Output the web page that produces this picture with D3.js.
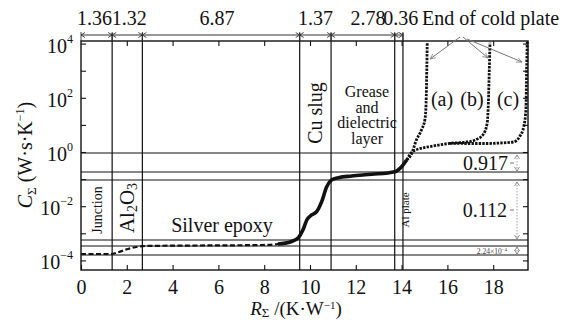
<!DOCTYPE html>
<html>
<head>
<meta charset="utf-8">
<script src="https://cdn.jsdelivr.net/npm/d3@7"></script>
<style>
  html, body { margin: 0; padding: 0; background: #fff; }
  svg { display: block; }
</style>
</head>
<body>
<svg id="chart" width="574" height="321"></svg>
<script>
// Thermal resistance of each layer along the heat path (K/W)
const layerR = [1.36, 1.32, 6.87, 1.37, 2.78, 0.36];
const layerLabels = ["1.36", "1.32", "6.87", "1.37", "2.78", "0.36"];

// Axis ticks
const xTicks = [0, 2, 4, 6, 8, 10, 12, 14, 16, 18];
const yDecades = [-4, -3, -2, -1, 0, 1, 2, 3, 4];
const yLabelExps = [4, 2, 0, -2, -4];

// Cumulative capacitance levels marked by horizontal reference lines
const levelC = [0.917, 0.183, 0.093, 5.66e-4, 3.4e-4, 1.58e-4];

// Cumulative structure function, common part (R in K/W, C in W·s/K)
const sharedR = [0, 1.31, 1.62, 2.05, 2.49, 2.79, 5.20, 7.86, 8.60, 9.17, 9.48, 9.69, 9.86, 10.07,
  10.29, 10.51, 10.73, 10.94, 11.24, 11.82, 12.69, 13.71, 14.00, 14.22];
const sharedC = [1.72e-4, 1.72e-4, 1.99e-4, 2.64e-4, 3.21e-4, 3.40e-4, 3.55e-4, 3.70e-4, 4.03e-4,
  4.90e-4, 6.71e-4, 1.32e-3, 3.10e-3, 4.74e-3, 6.27e-3, 1.47e-2, 5.25e-2, 9.27e-2, 0.113, 0.130,
  0.150, 0.188, 0.287, 0.507];

// Branches for the three cold plate conditions
const branchAR = [14.22, 14.41, 14.66, 14.88, 15.02, 15.07, 15.10, 15.12];
const branchAC = [0.507, 0.775, 2.94, 6.88, 16.1, 65.9, 1127, 10790];
const branchBR = [14.22, 14.51, 15.38, 16.11, 16.84, 17.28, 17.57, 17.74, 17.79, 17.83, 17.86];
const branchBC = [0.507, 1.09, 1.66, 2.09, 2.34, 2.94, 4.50, 12.1, 65.9, 1127, 10790];
const branchCR = [16.11, 16.99, 17.76, 18.30, 18.88, 19.17, 19.34, 19.43, 19.46, 19.49];
const branchCC = [2.09, 2.06, 2.06, 2.15, 2.34, 3.89, 9.1, 37.6, 1127, 12470];

const FONT = "'Liberation Serif', Tinos, 'Times New Roman', 'DejaVu Serif', serif";
const svg = d3.select("#chart").attr("font-family", FONT);
const L = 81, R = 528, T = 41, B = 270;

const x = d3.scaleLinear().domain([0, 19.52]).range([L, R]);
const y = d3.scaleLog().domain([Math.pow(10, -4.354), Math.pow(10, 4.096)]).range([B, T]);

const defs = svg.append("defs");
defs.append("clipPath").attr("id", "plotClip")
  .append("rect").attr("x", L).attr("y", T - 1).attr("width", R - L + 1).attr("height", B - T + 1);
defs.append("marker").attr("id", "greyHead").attr("viewBox", "0 0 10 10")
  .attr("refX", 9).attr("refY", 5).attr("markerWidth", 6).attr("markerHeight", 6)
  .attr("orient", "auto")
  .append("path").attr("d", "M0,1 L9,5 L0,9").attr("fill", "none").attr("stroke", "#777").attr("stroke-width", 1.2);

// Layer boundaries
const bounds = [0];
layerR.forEach(r => bounds.push(+(bounds[bounds.length - 1] + r).toFixed(2)));

// Horizontal reference lines
svg.append("g").selectAll("line").data(levelC).join("line")
  .attr("x1", L).attr("x2", R)
  .attr("y1", d => y(d)).attr("y2", d => y(d))
  .attr("stroke", "#111").attr("stroke-width", 1.1);

// Vertical boundary lines
svg.append("g").selectAll("line").data(bounds.slice(1)).join("line")
  .attr("x1", d => x(d)).attr("x2", d => x(d))
  .attr("y1", 33).attr("y2", B)
  .attr("stroke", "#111").attr("stroke-width", 1.2);

// Axes (ticks pointing inward)
const xAxisB = d3.axisBottom(x).tickValues(xTicks).tickSize(-5).tickPadding(10).tickFormat(d3.format("d"));
const gxB = svg.append("g").attr("transform", `translate(0,${B})`).call(xAxisB);
gxB.attr("font-family", FONT);
gxB.selectAll("text").attr("font-size", 20).attr("fill", "#111");
const gxT = svg.append("g").attr("transform", `translate(0,${T})`)
  .call(d3.axisTop(x).tickValues(xTicks.slice(1)).tickSize(-5).tickFormat(""));
const gyL = svg.append("g").attr("transform", `translate(${L},0)`)
  .call(d3.axisLeft(y).tickValues(yDecades.map(e => Math.pow(10, e))).tickSize(-5).tickFormat(""));
const gyR = svg.append("g").attr("transform", `translate(${R},0)`)
  .call(d3.axisRight(y).tickValues(yDecades.map(e => Math.pow(10, e))).tickSize(-5).tickFormat(""));
[gxB, gxT, gyL, gyR].forEach(g => {
  g.select(".domain").remove();
  g.selectAll("line").attr("stroke", "#111").attr("stroke-width", 1.1);
});

// Frame
svg.append("rect").attr("x", L).attr("y", T).attr("width", R - L).attr("height", B - T)
  .attr("fill", "none").attr("stroke", "#111").attr("stroke-width", 1.4);

// Y tick labels: 10 with superscript exponent
const yLab = svg.append("g").selectAll("text").data(yLabelExps).join("text")
  .attr("x", 73).attr("y", d => y(Math.pow(10, d)) + 9)
  .attr("text-anchor", "end").attr("font-size", 20).attr("fill", "#111");
yLab.append("tspan").text("10");
yLab.append("tspan").attr("font-size", 12).attr("dy", -10).text(d => d < 0 ? "\u2212" + (-d) : d);

// Dimension line above the plot with layer resistances
const dimY = 35;
svg.append("line").attr("x1", x(0)).attr("x2", x(bounds[bounds.length - 1]))
  .attr("y1", dimY).attr("y2", dimY).attr("stroke", "#333").attr("stroke-width", 1);
const arrowG = svg.append("g").attr("stroke", "#333").attr("stroke-width", 0.9).attr("fill", "none");
bounds.forEach((b, i) => {
  const px = x(b);
  if (i > 0) arrowG.append("path").attr("d", `M${px - 4},${dimY - 2.5} L${px},${dimY} L${px - 4},${dimY + 2.5}`);
  if (i < bounds.length - 1) arrowG.append("path").attr("d", `M${px + 4},${dimY - 2.5} L${px},${dimY} L${px + 4},${dimY + 2.5}`);
  arrowG.append("line").attr("x1", px).attr("x2", px).attr("y1", dimY - 3).attr("y2", T);
});
const segShift = [-2, 2, -4, 0, 5, 2];
svg.append("g").selectAll("text").data(layerLabels).join("text")
  .attr("x", (d, i) => x((bounds[i] + bounds[i + 1]) / 2) + segShift[i])
  .attr("y", 25).attr("text-anchor", "middle").attr("font-size", 20).attr("fill", "#111")
  .text(d => d);

// Structure function curves
const line = d3.line().x(d => x(d[0])).y(d => y(d[1])).curve(d3.curveMonotoneX);
const curves = svg.append("g").attr("clip-path", "url(#plotClip)");
const sharedPts = sharedR.map((r, i) => [r, sharedC[i]]);
curves.append("path").attr("d", line(sharedPts.slice(0, 10)))
  .attr("fill", "none").attr("stroke", "#111").attr("stroke-width", 2.2)
  .attr("stroke-dasharray", "5 2.5");
curves.append("path").attr("d", line(sharedPts.slice(8)))
  .attr("fill", "none").attr("stroke", "#111").attr("stroke-width", 3.6).attr("stroke-linejoin", "round");
[[branchAR, branchAC], [branchBR, branchBC], [branchCR, branchCC]].forEach(([rs, cs]) => {
  const pts = rs.map((r, i) => [r, cs[i]]);
  curves.append("path").attr("d", line(pts))
    .attr("fill", "none").attr("stroke", "#111").attr("stroke-width", 2.8)
    .attr("stroke-dasharray", "2.4 1.2");
});

// Region labels
function vtext(txt, cx, cy, size) {
  return svg.append("text").attr("transform", `translate(${cx},${cy}) rotate(-90)`)
    .attr("text-anchor", "middle").attr("dominant-baseline", "central").attr("font-size", size)
    .attr("fill", "#111").text(txt);
}
vtext("Junction", 97, 210, 14);
const al = svg.append("text").attr("transform", "translate(127,208) rotate(-90)")
  .attr("text-anchor", "middle").attr("dominant-baseline", "central").attr("font-size", 21).attr("fill", "#111");
al.append("tspan").text("Al");
al.append("tspan").attr("font-size", 14).attr("dy", 5).text("2");
al.append("tspan").attr("dy", -5).text("O");
al.append("tspan").attr("font-size", 14).attr("dy", 5).text("3");
svg.append("text").attr("x", 222).attr("y", 232).attr("text-anchor", "middle").attr("font-size", 20)
  .attr("fill", "#111").text("Silver epoxy");
vtext("Cu slug", 315, 113, 20);
["Grease", "and", "dielectric", "layer"].forEach((t, i) => {
  svg.append("text").attr("x", 367).attr("y", 97 + i * 15.6).attr("text-anchor", "middle")
    .attr("font-size", 16).attr("fill", "#111").text(t);
});
vtext("Al plate", 405, 210, 11);
[["(a)", 442], ["(b)", 472], ["(c)", 508]].forEach(([t, cx]) => {
  svg.append("text").attr("x", cx).attr("y", 106).attr("text-anchor", "middle").attr("font-size", 20)
    .attr("fill", "#111").text(t);
});

// End of cold plate note with pointers
svg.append("text").attr("x", 422).attr("y", 25).attr("font-size", 20).attr("fill", "#111").text("End of cold plate");
const pointers = [[460, 37, 430, 59], [463, 37, 488, 58], [467, 39, 522, 62]];
svg.append("g").selectAll("line").data(pointers).join("line")
  .attr("x1", d => d[0]).attr("y1", d => d[1]).attr("x2", d => d[2]).attr("y2", d => d[3])
  .attr("stroke", "#777").attr("stroke-width", 1).attr("marker-end", "url(#greyHead)");

// Capacitance span annotations on the right
function span(y1, y2) {
  svg.append("line").attr("x1", 517).attr("x2", 517).attr("y1", y1).attr("y2", y2)
    .attr("stroke", "#888").attr("stroke-width", 0.8).attr("stroke-dasharray", "1.5 1.5");
  svg.append("path").attr("d", `M514.5,${y1 + 4} L517,${y1} L519.5,${y1 + 4} M514.5,${y2 - 4} L517,${y2} L519.5,${y2 - 4}`)
    .attr("fill", "none").attr("stroke", "#777").attr("stroke-width", 0.8);
}
span(y(levelC[0]) + 2, y(levelC[1]) - 1);
span(y(levelC[2]) + 2, y(levelC[3]) - 1);
span(y(levelC[4]) + 1, y(levelC[5]) - 1);
svg.append("text").attr("x", 508).attr("y", 170).attr("text-anchor", "end").attr("font-size", 20)
  .attr("fill", "#111").text("0.917");
svg.append("text").attr("x", 507).attr("y", 217).attr("text-anchor", "end").attr("font-size", 20)
  .attr("fill", "#111").text("0.112");
[163, 210].forEach(yy => svg.append("line").attr("x1", 510).attr("x2", 514).attr("y1", yy).attr("y2", yy)
  .attr("stroke", "#555").attr("stroke-width", 0.8));
const tiny = svg.append("text").attr("x", 507).attr("y", 254).attr("text-anchor", "end")
  .attr("font-size", 7.5).attr("fill", "#444");
tiny.append("tspan").text("2.24\u00d710");
tiny.append("tspan").attr("font-size", 5).attr("dy", -3).text("\u22124");

// Axis titles
const xt = svg.append("text").attr("x", 296).attr("y", 315).attr("text-anchor", "middle")
  .attr("font-size", 19).attr("fill", "#111");
xt.append("tspan").attr("font-style", "italic").text("R");
xt.append("tspan").attr("font-size", 13).attr("dy", 2).text("\u03a3");
xt.append("tspan").attr("dy", -2).text(" /(K\u00b7W");
xt.append("tspan").attr("font-size", 11).attr("dy", -6).text("\u22121");
xt.append("tspan").attr("dy", 6).text(")");

const yt = svg.append("text").attr("transform", "translate(32,155) rotate(-90)")
  .attr("text-anchor", "middle").attr("font-size", 20).attr("fill", "#111");
yt.append("tspan").attr("font-style", "italic").text("C");
yt.append("tspan").attr("font-size", 13).attr("dy", 4).text("\u03a3");
yt.append("tspan").attr("dy", -4).text(" (W\u00b7s\u00b7K");
yt.append("tspan").attr("font-size", 12).attr("dy", -8).text("\u22121");
yt.append("tspan").attr("dy", 8).text(")");
</script>
</body>
</html>
